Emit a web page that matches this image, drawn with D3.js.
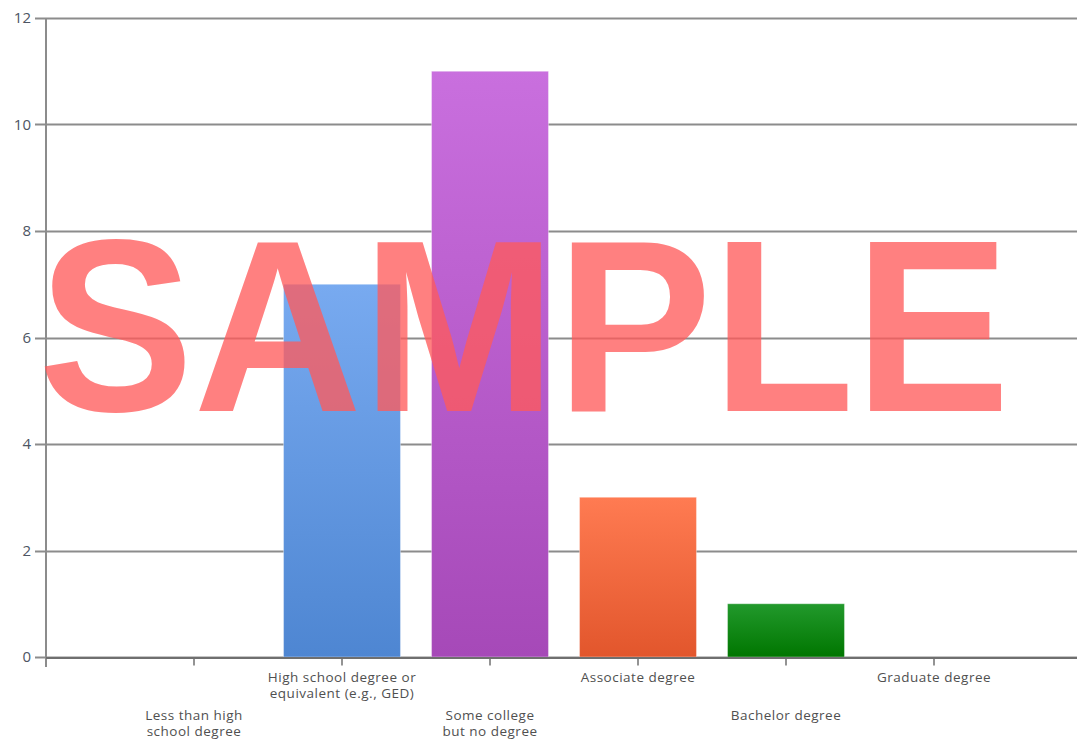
<!DOCTYPE html>
<html>
<head>
<meta charset="utf-8">
<script src="https://cdn.jsdelivr.net/npm/d3@7"></script>
<style>
  html, body { margin: 0; padding: 0; background: #fff; }
  svg { display: block; }
</style>
</head>
<body>
<script>
const categories = [
  "Less than high school degree",
  "High school degree or equivalent (e.g., GED)",
  "Some college but no degree",
  "Associate degree",
  "Bachelor degree",
  "Graduate degree"
];
const labelLines = [
  ["Less than high", "school degree"],
  ["High school degree or", "equivalent (e.g., GED)"],
  ["Some college", "but no degree"],
  ["Associate degree"],
  ["Bachelor degree"],
  ["Graduate degree"]
];
const values = [0, 7, 11, 3, 1, 0];
const yTicks = [0, 2, 4, 6, 8, 10, 12];
const colorsTop = ["#7aaaf0", "#78aaf0", "#c96fde", "#ff7b52", "#22992c", "#7aaaf0"];
const colorsBottom = ["#4e86d2", "#4e86d2", "#a649b8", "#e2562c", "#007600", "#4e86d2"];

const W = 1077, H = 745;
const x0 = 46, step = 148;
const svg = d3.select("body").append("svg").attr("width", W).attr("height", H);

const x = d3.scaleBand()
  .domain(categories)
  .range([x0 + step * 0.5, x0 + step * 6.5])
  .paddingInner(0.21).paddingOuter(0.105);
const y = d3.scaleLinear().domain([0, 12]).range([657, 18]);

const defs = svg.append("defs");
categories.forEach((c, i) => {
  const g = defs.append("linearGradient").attr("id", "g" + i)
    .attr("x1", 0).attr("y1", 0).attr("x2", 0).attr("y2", 1);
  g.append("stop").attr("offset", "0%").attr("stop-color", colorsTop[i]);
  g.append("stop").attr("offset", "100%").attr("stop-color", colorsBottom[i]);
});

// gridlines
svg.append("g").selectAll("line").data(yTicks).join("line")
  .attr("x1", 35).attr("x2", W)
  .attr("y1", d => Math.round(y(d)) + 0.5).attr("y2", d => Math.round(y(d)) + 0.5)
  .attr("stroke", "#8c8c8c").attr("stroke-width", 2);

// y labels
svg.append("g").selectAll("text").data(yTicks).join("text")
  .attr("x", 31).attr("y", d => y(d)).attr("dy", "0.36em")
  .attr("text-anchor", "end")
  .attr("font-family", "'Open Sans', 'DejaVu Sans', sans-serif")
  .attr("font-size", 15).attr("fill", "#4d5563")
  .text(d => d);

// bars
svg.append("g").selectAll("rect").data(categories).join("rect")
  .attr("x", d => x(d))
  .attr("width", x.bandwidth())
  .attr("y", (d, i) => y(values[i]))
  .attr("height", (d, i) => y(0) - y(values[i]))
  .attr("fill", (d, i) => "url(#g" + i + ")")
  .attr("stroke", "rgba(255,255,255,0.35)").attr("stroke-width", 1);

// y axis line
svg.append("line").attr("x1", 46).attr("x2", 46).attr("y1", 18).attr("y2", 667)
  .attr("stroke", "#8c8c8c").attr("stroke-width", 2);

// x axis
const xAxis = d3.axisBottom(x).tickSize(8).tickSizeOuter(0).tickFormat("");
const gx = svg.append("g").attr("transform", "translate(0,657.5)").call(xAxis);
gx.select(".domain").remove();
gx.selectAll(".tick line").attr("stroke", "#6f6f6f").attr("stroke-width", 1.5);
svg.append("line").attr("x1", 46).attr("x2", W).attr("y1", 658).attr("y2", 658)
  .attr("stroke", "#6f6f6f").attr("stroke-width", 2);

// x labels
const lbl = svg.append("g").selectAll("text").data(categories).join("text")
  .attr("text-anchor", "middle")
  .attr("font-family", "'Open Sans', 'DejaVu Sans', sans-serif")
  .attr("font-size", 13.5).attr("letter-spacing", 0.5).attr("fill", "#505050")
  .attr("transform", (d, i) => `translate(${x(d) + x.bandwidth() / 2},${i % 2 === 0 ? 720 : 682})`);
lbl.each(function(d, i) {
  const t = d3.select(this);
  labelLines[i].forEach((ln, k) => {
    t.append("tspan").attr("x", 0).attr("y", k * 16).text(ln);
  });
});

// watermark
svg.append("text")
  .attr("x", 38).attr("y", 411)
  .attr("font-family", "'Liberation Sans', Arial, sans-serif")
  .attr("font-weight", "bold")
  .attr("font-size", 245)
  .attr("textLength", 972)
  .attr("lengthAdjust", "spacingAndGlyphs")
  .attr("fill", "rgba(255,90,90,0.77)")
  .text("SAMPLE");
</script>
</body>
</html>
